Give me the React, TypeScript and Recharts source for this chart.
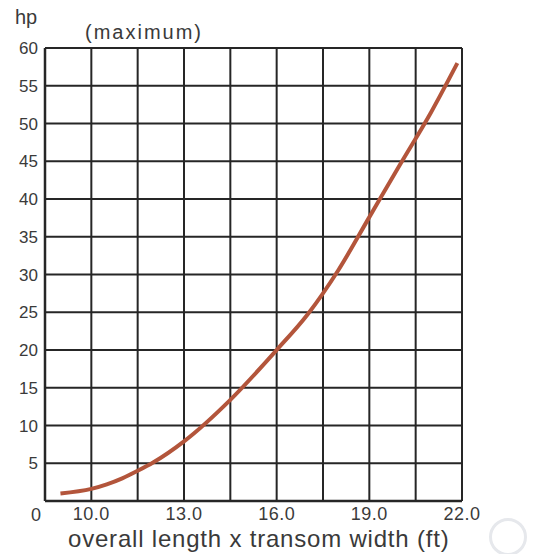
import { LineChart, Line, XAxis, YAxis, CartesianGrid } from "recharts";

const lengthFt = [9.0, 10.0, 10.5, 11.0, 11.5, 12.0, 13.0, 14.5, 16.0, 17.0, 18.0, 19.0, 20.0, 21.0, 21.85];
const maxHp = [1.0, 1.6, 2.2, 3.0, 4.0, 5.1, 7.9, 13.4, 20.0, 24.7, 30.6, 37.6, 44.6, 51.5, 58.0];

const xGridTicks = [8.5, 10, 11.5, 13, 14.5, 16, 17.5, 19, 20.5, 22];
const xLabelTicks = [10, 13, 16, 19, 22];
const yTicks = [0, 5, 10, 15, 20, 25, 30, 35, 40, 45, 50, 55, 60];

const data = lengthFt.map((ft, i) => ({ ft, hp: maxHp[i] }));

const font = "'Liberation Sans', Arial, sans-serif";
const textColor = "#3a3a3a";
const gridColor = "#262626";

function XTick(props: any) {
  const { x, y, payload } = props;
  if (!xLabelTicks.includes(payload.value)) return null;
  return (
    <text x={x} y={y} dy={11} textAnchor="middle" fontSize={18} fill={textColor} fontFamily={font} letterSpacing={0.5}>
      {payload.value.toFixed(1)}
    </text>
  );
}

function YTick(props: any) {
  const { x, y, payload } = props;
  if (payload.value === 0) {
    return (
      <text x={x + 3} y={y} dy={20} textAnchor="end" fontSize={18} fill={textColor} fontFamily={font}>
        0
      </text>
    );
  }
  return (
    <text x={x} y={y} dy={6} textAnchor="end" fontSize={17} fill={textColor} fontFamily={font}>
      {payload.value}
    </text>
  );
}

export default function App() {
  return (
    <div style={{ position: "absolute", left: 0, top: 0, width: 538, height: 554, background: "#fff", fontFamily: font }}>
      <div style={{ position: "absolute", left: 15, top: 6, fontSize: 20, color: textColor }}>hp</div>
      <div style={{ position: "absolute", left: 85, top: 21, fontSize: 20, letterSpacing: 2, color: textColor }}>(maximum)</div>
      <LineChart width={538} height={554} data={data} margin={{ top: 48, right: 76, bottom: 0, left: 0 }}>
        <CartesianGrid stroke={gridColor} strokeWidth={2} />
        <XAxis
          dataKey="ft"
          type="number"
          domain={[8.5, 22]}
          ticks={xGridTicks}
          interval={0}
          height={53}
          tick={<XTick />}
          tickLine={false}
          axisLine={{ stroke: gridColor, strokeWidth: 2.5 }}
        />
        <YAxis
          type="number"
          domain={[0, 60]}
          ticks={yTicks}
          interval={0}
          width={45}
          tick={<YTick />}
          tickLine={false}
          tickMargin={1}
          axisLine={{ stroke: gridColor, strokeWidth: 2.5 }}
        />
        <Line
          type="monotone"
          dataKey="hp"
          stroke="#b3553b"
          strokeWidth={4}
          dot={false}
          isAnimationActive={false}
        />
      </LineChart>
      <div style={{ position: "absolute", left: 68, top: 525, fontSize: 24, letterSpacing: 0.8, color: textColor, whiteSpace: "nowrap", lineHeight: "28px" }}>
        overall length x transom width (ft)
      </div>
      <div
        style={{
          position: "absolute",
          left: 489,
          top: 518,
          width: 32,
          height: 32,
          borderRadius: "50%",
          border: "3px solid #e6e8ec",
        }}
      />
    </div>
  );
}
